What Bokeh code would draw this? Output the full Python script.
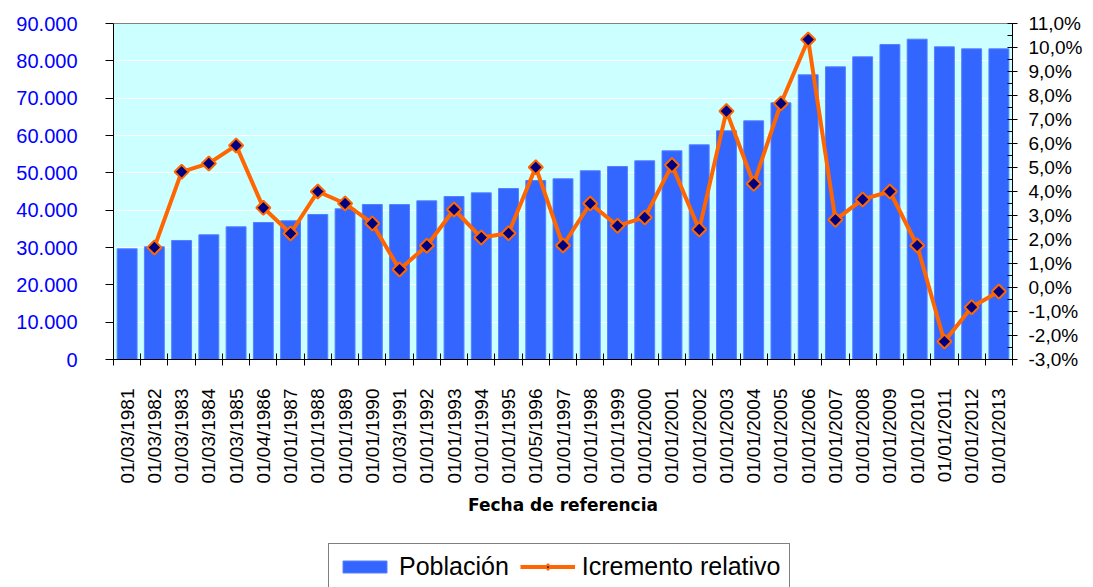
import math
import numpy as np
from bokeh.plotting import figure
from bokeh.layouts import column
from bokeh.models import Range1d, LinearAxis, FixedTicker, Legend, LegendItem, ColumnDataSource
from bokeh.embed import file_html
from bokeh.resources import INLINE

fechas = ["01/03/1981", "01/03/1982", "01/03/1983", "01/03/1984", "01/03/1985",
          "01/04/1986", "01/01/1987", "01/01/1988", "01/01/1989", "01/01/1990",
          "01/03/1991", "01/01/1992", "01/01/1993", "01/01/1994", "01/01/1995",
          "01/05/1996", "01/01/1997", "01/01/1998", "01/01/1999", "01/01/2000",
          "01/01/2001", "01/01/2002", "01/01/2003", "01/01/2004", "01/01/2005",
          "01/01/2006", "01/01/2007", "01/01/2008", "01/01/2009", "01/01/2010",
          "01/01/2011", "01/01/2012", "01/01/2013"]

poblacion = [29650, 30180, 31880, 33400, 35540, 36700, 37150, 38840, 40360, 41520,
             41500, 42500, 43660, 44640, 45800, 47950, 48400, 50560, 51700, 53220,
             55890, 57500, 61250, 63930, 68750, 76250, 78390, 81070, 84380, 85800,
             83750, 83210, 83210]

incremento = [float("nan"), 1.67, 4.82, 5.17, 5.92, 3.32, 2.25, 4.00, 3.50, 2.67,
              0.75, 1.74, 3.25, 2.08, 2.26, 5.01, 1.75, 3.50, 2.57, 2.92,
              5.10, 2.42, 7.35, 4.32, 7.67, 10.33, 2.82, 3.67, 4.00, 1.75,
              -2.25, -0.82, -0.17]

pob_ticks = [0, 10000, 20000, 30000, 40000, 50000, 60000, 70000, 80000, 90000]
pob_labels = ["0", "10.000", "20.000", "30.000", "40.000", "50.000",
              "60.000", "70.000", "80.000", "90.000"]

pct_ticks = [-3, -2, -1, 0, 1, 2, 3, 4, 5, 6, 7, 8, 9, 10, 11]
pct_labels = ["-3,0%", "-2,0%", "-1,0%", "0,0%", "1,0%", "2,0%", "3,0%", "4,0%",
              "5,0%", "6,0%", "7,0%", "8,0%", "9,0%", "10,0%", "11,0%"]

FONT = "Liberation Sans"
BAR_COLOR = "#3366FF"
LINE_COLOR = "#FF6600"
MARK_COLOR = "#000080"
NAN = float("nan")

x_idx = list(range(len(fechas)))
source = ColumnDataSource(dict(x=x_idx, pob=poblacion, inc=incremento))

p = figure(width=1085, height=537, x_range=Range1d(-0.5, len(fechas) - 0.5),
           y_range=Range1d(0, 90000), output_backend="svg", toolbar_location=None,
           min_border_left=113, min_border_right=70, min_border_top=23,
           min_border_bottom=178)
p.background_fill_color = "#CCFFFF"
p.border_fill_color = "white"
p.outline_line_color = "#808080"
p.xgrid.visible = False
p.ygrid.ticker = FixedTicker(ticks=pob_ticks)
p.ygrid.grid_line_color = "white"
p.ygrid.grid_line_width = 1

# left axis
ya = p.yaxis[0]
ya.ticker = FixedTicker(ticks=pob_ticks)
ya.major_label_overrides = dict(zip(pob_ticks, pob_labels))
ya.major_label_text_color = "#0000FF"
ya.major_label_text_font = FONT
ya.major_label_text_font_size = "20px"
ya.major_tick_out = 8
ya.major_tick_in = 0
ya.minor_tick_line_color = None
ya.major_label_standoff = 28
ya.axis_line_color = "black"
ya.major_tick_line_color = "black"

# bottom axis
xa = p.xaxis[0]
xa.ticker = FixedTicker(ticks=x_idx, minor_ticks=[i - 0.5 for i in range(len(fechas) + 1)])
xa.major_label_overrides = {i: f for i, f in zip(x_idx, fechas)}
xa.major_label_orientation = math.pi / 2
xa.major_label_text_font = FONT
xa.major_label_text_font_size = "19px"
xa.major_label_text_color = "black"
xa.major_tick_in = 0
xa.major_tick_out = 0
xa.major_tick_line_color = None
xa.minor_tick_in = 6
xa.minor_tick_out = 6
xa.minor_tick_line_color = "black"
xa.major_label_standoff = 23
xa.axis_label = "Fecha de referencia"
xa.axis_label_text_font = "DejaVu Sans"
xa.axis_label_text_font_style = "bold"
xa.axis_label_text_font_size = "17px"
xa.axis_label_text_color = "black"
xa.axis_label_standoff = 8
xa.axis_line_color = "black"

# right axis
p.extra_y_ranges = {"pct": Range1d(-3, 11)}
ra = LinearAxis(y_range_name="pct",
                ticker=FixedTicker(ticks=pct_ticks,
                                   minor_ticks=[t + 0.5 for t in pct_ticks[:-1]]))
ra.major_label_overrides = dict(zip(pct_ticks, pct_labels))
ra.major_label_text_font = FONT
ra.major_label_text_font_size = "19px"
ra.major_label_text_color = "black"
ra.major_tick_in = 5
ra.major_tick_out = 5
ra.minor_tick_in = 5
ra.minor_tick_out = 0
ra.minor_tick_line_color = "black"
ra.major_label_standoff = 11
ra.axis_line_color = "black"
p.add_layout(ra, "right")

bars = p.vbar(x="x", top="pob", width=0.73, source=source,
              fill_color=BAR_COLOR, line_color="#5580FF", line_width=1)
line = p.line(x="x", y="inc", source=source, y_range_name="pct",
              line_color=LINE_COLOR, line_width=4)
pts = p.scatter(x="x", y="inc", source=source, y_range_name="pct",
                marker="square", angle=math.pi / 4, size=10,
                fill_color=MARK_COLOR, line_color=LINE_COLOR, line_width=2)

# legend strip below the chart (proxy glyphs have no drawable data)
lg = figure(width=1085, height=50, x_range=Range1d(0, 1), y_range=Range1d(0, 1),
            output_backend="svg", toolbar_location=None,
            x_axis_location=None, y_axis_location=None,
            min_border_left=0, min_border_right=0, min_border_top=0,
            min_border_bottom=0)
lg.outline_line_color = None
lg.background_fill_color = "white"
lg.xgrid.visible = False
lg.ygrid.visible = False
lb = lg.vbar(x=[NAN], top=[NAN], width=0.5, fill_color=BAR_COLOR, line_color="#5580FF")
ll = lg.line(x=[NAN, NAN], y=[NAN, NAN], line_color=LINE_COLOR, line_width=4)
lp = lg.scatter(x=[NAN], y=[NAN], marker="diamond", size=14,
                fill_color=MARK_COLOR, line_color=LINE_COLOR, line_width=2)

legend = Legend(items=[LegendItem(label="Población", renderers=[lb]),
                       LegendItem(label="Icremento relativo", renderers=[ll, lp])],
                orientation="horizontal", location=(215, -3),
                label_text_font=FONT, label_text_font_size="25px",
                label_text_color="black",
                label_height=26,
                glyph_width=55, glyph_height=15, padding=8, spacing=11,
                label_standoff=7, border_line_color="black",
                border_line_width=1, background_fill_color="white",
                background_fill_alpha=1, margin=0)
lg.add_layout(legend)

layout = column(p, lg, spacing=0)
open("out.html", "w").write(file_html(layout, INLINE))
